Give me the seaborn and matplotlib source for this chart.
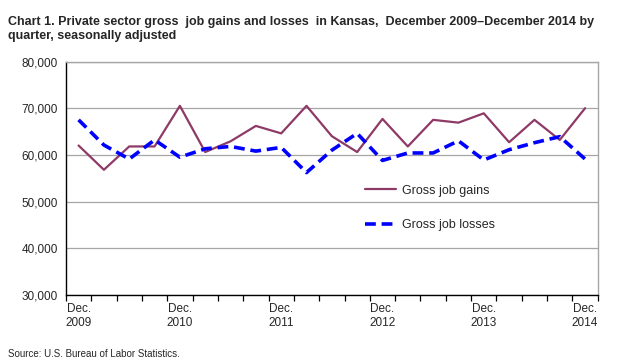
import numpy as np
import pandas as pd
import matplotlib
matplotlib.use("Agg")
import matplotlib.pyplot as plt
import seaborn as sns
from matplotlib.ticker import FuncFormatter, FixedLocator

sns.set_theme(style="white")
plt.rcParams['font.family'] = ['Liberation Sans', 'DejaVu Sans']

# Quarterly data, Dec 2009 - Dec 2014
quarters = list(range(21))
gains = [62000, 56800, 61800, 61800, 70500, 60600, 62900, 66200, 64600, 70500, 64000,
         60600, 67700, 61800, 67500, 66900, 68900, 62700, 67500, 63200, 70000]
losses = [67500, 62100, 59100, 63200, 59500, 61300, 61800, 60800, 61600, 56200, 61000,
          64600, 58800, 60400, 60400, 63000, 58900, 61100, 62600, 63900, 59100]
tick_pos = [0, 4, 8, 12, 16, 20]
tick_labels = ["Dec.\n2009", "Dec.\n2010", "Dec.\n2011", "Dec.\n2012", "Dec.\n2013", "Dec.\n2014"]

df = pd.DataFrame({"q": quarters, "gains": gains, "losses": losses})

fig = plt.figure(figsize=(6.4, 3.64), dpi=100)
ax = fig.add_axes([0.103, 0.19, 0.831, 0.641])

sns.lineplot(data=df, x="q", y="gains", ax=ax, color="#8E3A66", lw=1.6,
             label="Gross job gains")
sns.lineplot(data=df, x="q", y="losses", ax=ax, color="#0000FF", lw=2.6,
             linestyle=(0, (3, 1.6)), label="Gross job losses")

ax.set_xlim(-0.5, 20.5)
ax.set_ylim(30000, 80000)
ax.set_yticks(range(30000, 80001, 10000))
ax.yaxis.set_major_formatter(FuncFormatter(lambda v, p: f"{int(v):,}"))
ax.grid(axis="y", color="#A6A6A6", lw=0.9)
ax.set_axisbelow(True)

ax.set_xticks(tick_pos)
ax.set_xticklabels(tick_labels, fontsize=8.5)
ax.xaxis.set_minor_locator(FixedLocator(np.arange(-0.5, 21, 1)))
ax.tick_params(axis="x", which="major", length=0, pad=6)
ax.tick_params(axis="x", which="minor", length=4, width=0.9, color="black", direction="out",
               bottom=True)
ax.tick_params(axis="y", length=0, labelsize=8.5, pad=6)
ax.set_xlabel("")
ax.set_ylabel("")

for s in ["left", "bottom"]:
    ax.spines[s].set_color("black")
    ax.spines[s].set_linewidth(1.0)
for s in ["top", "right"]:
    ax.spines[s].set_color("#A6A6A6")
    ax.spines[s].set_linewidth(1.0)

ax.legend(loc="upper left", bbox_to_anchor=(0.541, 0.52), frameon=False, fontsize=9,
          handlelength=2.5, handletextpad=0.45, labelspacing=1.8)

fig.text(0.012, 0.955, "Chart 1. Private sector gross  job gains and losses  in Kansas,  December 2009\u2013December 2014 by\nquarter, seasonally adjusted",
         fontsize=9, fontweight="bold", va="top", ha="left", linespacing=1.15,
         family=["Liberation Sans Narrow", "Liberation Sans", "DejaVu Sans"])
fig.text(0.012, 0.015, "Source: U.S. Bureau of Labor Statistics.", fontsize=7,
         va="bottom", ha="left", family=["Liberation Sans Narrow", "Liberation Sans", "DejaVu Sans"])

fig.savefig("out.png", dpi=100)
